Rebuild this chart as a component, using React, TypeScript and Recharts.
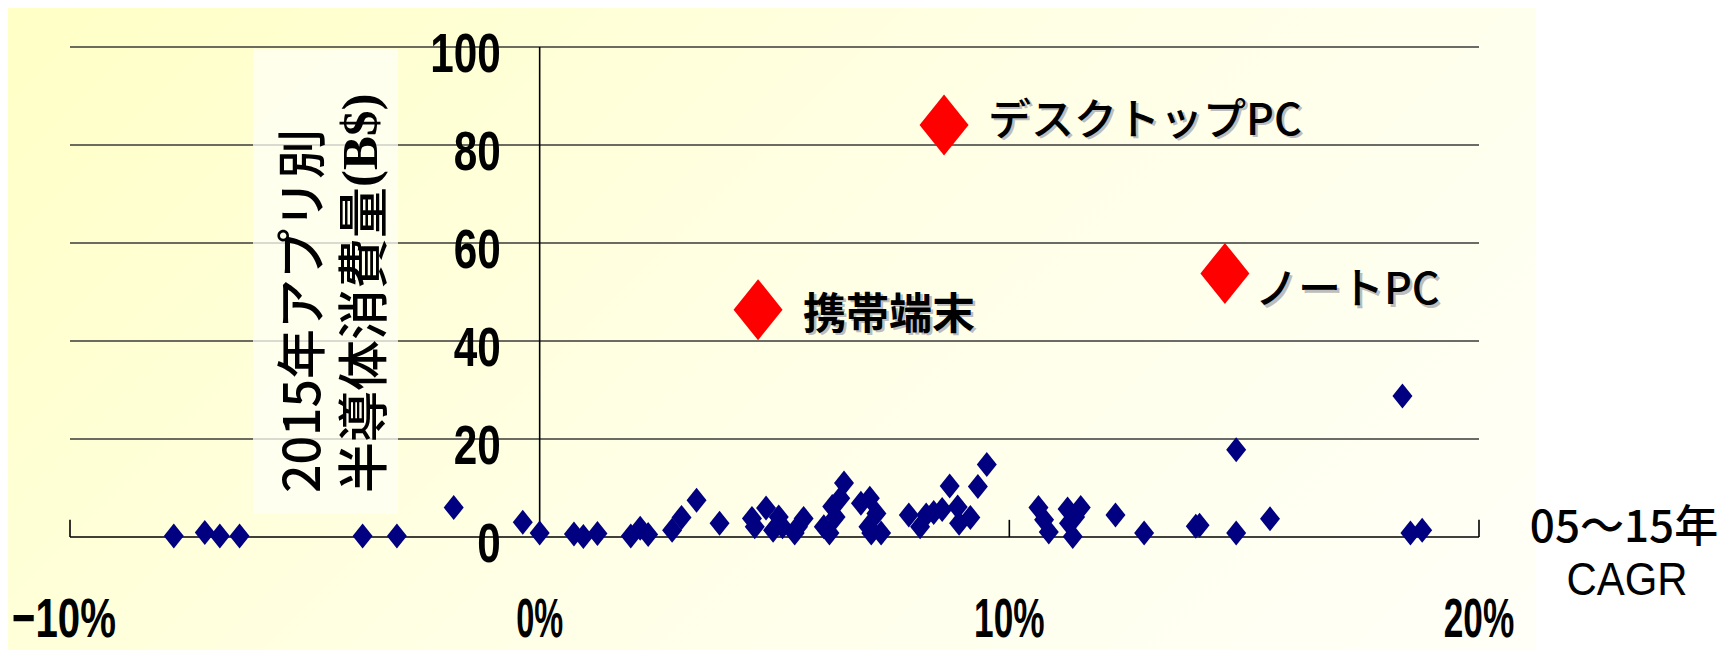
import {
  CartesianGrid,
  ReferenceDot,
  ReferenceLine,
  Scatter,
  ScatterChart,
  XAxis,
  YAxis,
} from "recharts";

// 2005-2015 CAGR (%) and 2015 semiconductor consumption (B$) for each application
const appCagr = [
  -7.79, -7.13, -6.81, -6.39, -3.77, -3.04, -1.83, -0.36,
  0.0, 0.73, 0.93, 1.23, 1.94, 2.14, 2.31, 2.82, 3.02, 3.34, 3.83,
  4.52, 4.58, 4.82, 4.97, 5.09, 5.17, 5.43, 5.5, 5.62,
  6.05, 6.17, 6.23, 6.3, 6.4, 6.48, 6.84, 7.0, 7.03, 7.06, 7.17, 7.27,
  7.86, 8.1, 8.23, 8.39, 8.57, 8.73, 8.9, 8.93, 9.17, 9.33, 9.52,
  10.62, 10.74, 10.84, 11.24, 11.27, 11.35, 11.4, 11.52, 12.26, 12.87,
  13.97, 14.05, 14.83, 14.83, 15.55, 18.37, 18.54, 18.79,
];
const appConsumption = [
  0.2, 0.9, 0.2, 0.2, 0.2, 0.2, 6.0, 3.0,
  0.8, 0.6, 0.1, 0.7, 0.2, 1.8, 0.5, 1.4, 4.0, 7.5, 2.8,
  3.8, 2.1, 5.9, 1.4, 4.1, 2.1, 0.8, 2.1, 3.8,
  2.1, 0.8, 6.2, 4.1, 7.9, 11.0, 6.9, 2.1, 7.9, 0.8, 4.8, 0.8,
  4.5, 2.1, 4.5, 5.0, 5.6, 10.4, 6.1, 2.8, 4.0, 10.3, 14.8,
  6.0, 3.5, 1.0, 5.7, 2.8, 0.1, 4.1, 6.0, 4.5, 0.8,
  2.2, 2.4, 0.8, 17.8, 3.7, 28.8, 0.8, 1.4,
];

// the three big applications, called out in red
const keyApps = ["デスクトップPC", "携帯端末", "ノートPC"];
const keyCagr = [8.61, 4.65, 14.59];
const keyConsumption = [84.1, 46.4, 53.8];

const xTicks = [-10, 0, 10, 20];
const yTicks = [0, 20, 40, 60, 80, 100];

const appPoints = appCagr.map((x, i) => ({ x, y: appConsumption[i] }));
const keyPoints = keyApps.map((name, i) => ({ name, x: keyCagr[i], y: keyConsumption[i] }));

const CJK = '"Noto Sans CJK JP", sans-serif';
const NUM = '"Liberation Sans", Arial, sans-serif';

// hand-placed label nudges for the red callouts
const calloutShift: Record<string, { dx: number; dy: number }> = {
  "デスクトップPC": { dx: 44, dy: -9 },
  携帯端末: { dx: 45, dy: 0 },
  ノートPC: { dx: 30, dy: 12 },
};

function diamond(cx: number, cy: number, hw: number, hh: number) {
  return `${cx},${cy - hh} ${cx + hw},${cy} ${cx},${cy + hh} ${cx - hw},${cy}`;
}

function AppMark(props: any) {
  const { cx, cy } = props;
  return <polygon points={diamond(cx, cy, 10, 12.5)} fill="#000080" />;
}

function KeyMark(props: any) {
  const { cx, cy, payload } = props;
  const s = calloutShift[payload.name] ?? { dx: 44, dy: 0 };
  const tx = cx + s.dx;
  const ty = cy + s.dy;
  const weight = payload.name === "携帯端末" ? 700 : 500;
  return (
    <g>
      <polygon points={diamond(cx, cy, 24.5, 30.5)} fill="#FF0000" />
      <text
        x={tx + 2.5}
        y={ty + 2.5}
        fontFamily={CJK}
        fontWeight={weight}
        fontSize={43}
        dominantBaseline="central"
        fill="#bdbdbd"
      >
        {payload.name}
      </text>
      <text
        x={tx}
        y={ty}
        fontFamily={CJK}
        fontWeight={weight}
        fontSize={43}
        dominantBaseline="central"
        fill="#000"
      >
        {payload.name}
      </text>
    </g>
  );
}

// long minus sign, as in the printed axis
function pct(v: number) {
  return v < 0 ? `\u2212${-v}%` : `${v}%`;
}

function XTick(props: any) {
  const { x, y, payload } = props;
  const label = pct(payload.value);
  const len = label.length * 23.5 + (payload.value < 0 ? 10 : 0);
  return (
    <text
      x={payload.value < 0 ? x - 6 : x}
      y={y + 100}
      textAnchor="middle"
      fontFamily={NUM}
      fontWeight="bold"
      fontSize={56}
      textLength={len}
      lengthAdjust="spacingAndGlyphs"
      fill="#000"
    >
      {label}
    </text>
  );
}

function YTickLabel({ cx, cy, value }: { cx?: number; cy?: number; value: number }) {
  if (cx == null || cy == null) return null;
  const label = String(value);
  return (
    <text
      x={cx - 39}
      y={cy + 25}
      textAnchor="end"
      fontFamily={NUM}
      fontWeight="bold"
      fontSize={56}
      textLength={label.length * 23.5}
      lengthAdjust="spacingAndGlyphs"
      fill="#000"
    >
      {label}
    </text>
  );
}

export default function App() {
  return (
    <div style={{ position: "absolute", left: 0, top: 0, width: 1722, height: 655, background: "#fff" }}>
      <div
        style={{
          position: "absolute",
          left: 8,
          top: 8,
          width: 1528,
          height: 642,
          background: "linear-gradient(135deg, #FFFFC6 0%, #FFFFE6 50%, #FFFFF8 100%)",
        }}
      />
      <div style={{ position: "absolute", left: 0, top: 0 }}>
        <ScatterChart
          width={1722}
          height={655}
          margin={{ top: 47, left: 70, right: 243, bottom: 78 }}
        >
          <CartesianGrid
            vertical={false}
            horizontalValues={[20, 40, 60, 80, 100]}
            stroke="#3a3a3a"
            strokeWidth={1.6}
          />
          <XAxis
            type="number"
            dataKey="x"
            domain={[-10, 20]}
            ticks={xTicks}
            interval={0}
            height={40}
            axisLine={{ stroke: "#000", strokeWidth: 1.6 }}
            tickLine={false}
            tickSize={0}
            tickMargin={0}
            tick={<XTick />}
          />
          <YAxis type="number" dataKey="y" domain={[0, 100]} ticks={yTicks} hide width={0} />
          <ReferenceLine x={0} stroke="#000" strokeWidth={1.6} />
          {[-10, 10, 20].map((v) => (
            <ReferenceLine
              key={v}
              segment={[
                { x: v, y: 0 },
                { x: v, y: 3.5 },
              ]}
              stroke="#000"
              strokeWidth={1.6}
            />
          ))}
          {yTicks.map((v) => (
            <ReferenceDot
              key={v}
              x={0}
              y={v}
              r={0}
              ifOverflow="visible"
              shape={(p: any) => <YTickLabel cx={p.cx} cy={p.cy} value={v} />}
            />
          ))}
          <Scatter data={appPoints} shape={<AppMark />} isAnimationActive={false} />
          <Scatter data={keyPoints} shape={<KeyMark />} isAnimationActive={false} />
        </ScatterChart>
      </div>
      <svg
        width={1722}
        height={655}
        style={{ position: "absolute", left: 0, top: 0, pointerEvents: "none" }}
      >
        <rect x={253} y={49} width={145} height={465} fill="#FFFFF6" fillOpacity={0.75} />
        <text
          transform="translate(298, 493) rotate(-90)"
          fontFamily={CJK}
          fontWeight={500}
          fontSize={50}
          dominantBaseline="central"
          fill="#000"
        >
          2015年アプリ別
        </text>
        <text
          transform="translate(360, 493) rotate(-90)"
          fontFamily={CJK}
          fontWeight={500}
          fontSize={51}
          dominantBaseline="central"
          fill="#000"
        >
          半導体消費量
          <tspan fontFamily='"Liberation Serif", serif' fontWeight="bold">(B$)</tspan>
        </text>
        <text x={1624} y={542} textAnchor="middle" fontFamily={CJK} fontWeight={500} fontSize={44} fill="#000">
          05～15年
        </text>
        <text
          x={1627}
          y={595}
          textAnchor="middle"
          fontFamily={NUM}
          fontSize={46}
          textLength={121}
          lengthAdjust="spacingAndGlyphs"
          fill="#000"
        >
          CAGR
        </text>
      </svg>
    </div>
  );
}
